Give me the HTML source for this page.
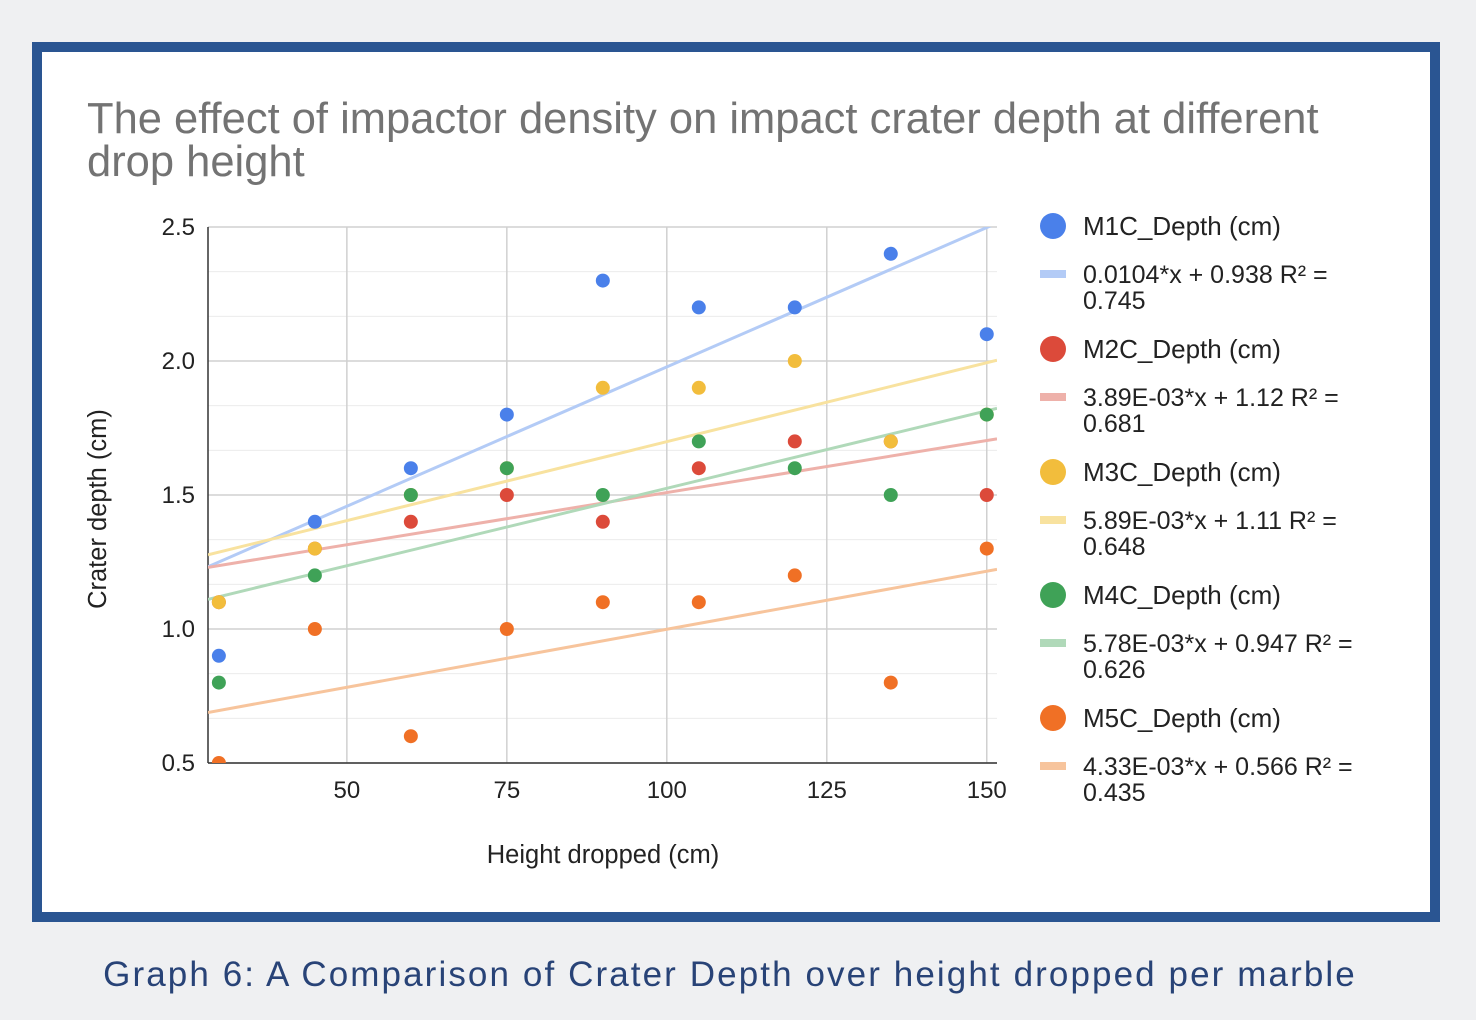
<!DOCTYPE html>
<html><head><meta charset="utf-8"><style>
body{margin:0;width:1476px;height:1020px;background:#eff0f2;font-family:"Liberation Sans",sans-serif;position:relative;overflow:hidden}
#frame{position:absolute;left:32px;top:42px;width:1388px;height:860px;border:10px solid #2a5592;background:#fff}
#cap{position:absolute;left:-8px;width:1476px;top:955px;text-align:center;font-size:35px;color:#284377;letter-spacing:2.1px}
</style></head><body>
<div id="frame"></div>
<svg id="chart" width="1476" height="1020" style="position:absolute;left:0;top:0" font-family="Liberation Sans, sans-serif"></svg>
<div id="cap">Graph 6: A Comparison of Crater Depth over height dropped per marble</div>
<script>
const xs=[30,45,60,75,90,105,120,135,150];
const m1=[0.9,1.4,1.6,1.8,2.3,2.2,2.2,2.4,2.1];
const m2=[1.1,1.3,1.4,1.5,1.4,1.6,1.7,1.7,1.5];
const m3=[1.1,1.3,1.5,1.6,1.9,1.9,2.0,1.7,1.8];
const m4=[0.8,1.2,1.5,1.6,1.5,1.7,1.6,1.5,1.8];
const m5=[0.5,1.0,0.6,1.0,1.1,1.1,1.2,0.8,1.3];
const slopes=[0.0104,0.00389,0.00589,0.00578,0.00433];
const intercepts=[0.938,1.12,1.11,0.947,0.566];
const names=["M1C_Depth (cm)","M2C_Depth (cm)","M3C_Depth (cm)","M4C_Depth (cm)","M5C_Depth (cm)"];
const eqs=[["0.0104*x + 0.938 R² =","0.745"],["3.89E-03*x + 1.12 R² =","0.681"],["5.89E-03*x + 1.11 R² =","0.648"],["5.78E-03*x + 0.947 R² =","0.626"],["4.33E-03*x + 0.566 R² =","0.435"]];
const yTicks=[0.5,1.0,1.5,2.0,2.5];
const xTicks=[50,75,100,125,150];
const series=[m1,m2,m3,m4,m5];
const colors=["#4a80ea","#dc4a3a","#f2bd3c","#3fa257","#f07025"];
const lcolors=["#b3cbf6","#eeb1aa","#f8e29f","#b0d9b9","#f7c49c"];
const xMin=28.3,xMax=151.6,yMin=0.5,yMax=2.5,L=208,R=997,T=227,B=763;
const X=v=>L+(v-xMin)/(xMax-xMin)*(R-L);
const Y=v=>B-(v-yMin)/(yMax-yMin)*(B-T);
const svg=document.getElementById('chart');const NS="http://www.w3.org/2000/svg";
function mk(t,a,p){const e=document.createElementNS(NS,t);for(const k in a)e.setAttribute(k,a[k]);(p||svg).appendChild(e);return e;}
let t=mk('text',{x:87,y:133,'font-size':43.5,fill:'#737373'});t.textContent="The effect of impactor density on impact crater depth at different";


t=mk('text',{x:87,y:176,'font-size':43.5,fill:'#737373'});t.textContent="drop height";


for(let v=yMin;v<yMax-0.01;v+=0.5){for(let k=1;k<3;k++){const yy=Y(v+k*0.5/3);mk('line',{x1:L,x2:R,y1:yy,y2:yy,stroke:'#ececec','stroke-width':1});}}
yTicks.forEach(v=>{const l=mk('line',{x1:L,x2:R,y1:Y(v),y2:Y(v),stroke:'#d0d0d0','stroke-width':1.5});


const tx=mk('text',{x:195,y:Y(v)+8,'font-size':24,'text-anchor':'end',fill:'#222'});tx.textContent=v.toFixed(1);

});
xTicks.forEach(v=>{const l=mk('line',{x1:X(v),x2:X(v),y1:T,y2:B,stroke:'#d0d0d0','stroke-width':1.5});


const tx=mk('text',{x:X(v),y:798,'font-size':24,'text-anchor':'middle',fill:'#222'});tx.textContent=v;

});
mk('line',{x1:L,x2:L,y1:T,y2:B,stroke:'#333','stroke-width':1.5});
mk('line',{x1:L,x2:R,y1:B,y2:B,stroke:'#333','stroke-width':1.5});
t=mk('text',{x:603,y:863,'font-size':25.5,'text-anchor':'middle',fill:'#222'});t.textContent="Height dropped (cm)";


t=mk('text',{x:0,y:0,'font-size':25.5,'text-anchor':'middle',fill:'#222',transform:'translate(106,509) rotate(-90)'});t.textContent="Crater depth (cm)";


mk('clipPath',{id:'cp'});mk('rect',{x:L,y:T-8,width:R-L+8,height:B-T+8},svg.lastChild);
mk('clipPath',{id:'cpl'});mk('rect',{x:L,y:T,width:R-L,height:B-T},svg.lastChild);
const gl=mk('g',{'clip-path':'url(#cpl)'});
const g=mk('g',{'clip-path':'url(#cp)'});
series.forEach((s,i)=>{const l=mk('line',{x1:X(xMin),y1:Y(slopes[i]*xMin+intercepts[i]),x2:X(xMax),y2:Y(slopes[i]*xMax+intercepts[i]),stroke:lcolors[i],'stroke-width':3},gl);

});
[0,1,2,3,4].forEach(i=>{series[i].forEach((v,j)=>{const c=mk('circle',{cx:X(xs[j]),cy:Y(v),r:7,fill:colors[i]},g);

});});
names.forEach((n,i)=>{const y0=226+i*123;
const c=mk('circle',{cx:1053,cy:y0,r:13,fill:colors[i]});


let tx=mk('text',{x:1083,y:y0+9,'font-size':26,fill:'#222'});tx.textContent=n;


mk('rect',{x:1040,y:y0+44,width:26,height:8,fill:lcolors[i]});
tx=mk('text',{x:1083,y:y0+57,'font-size':25,fill:'#222'});tx.textContent=eqs[i][0];


tx=mk('text',{x:1083,y:y0+83,'font-size':25,fill:'#222'});tx.textContent=eqs[i][1];

});
</script>
</body></html>
